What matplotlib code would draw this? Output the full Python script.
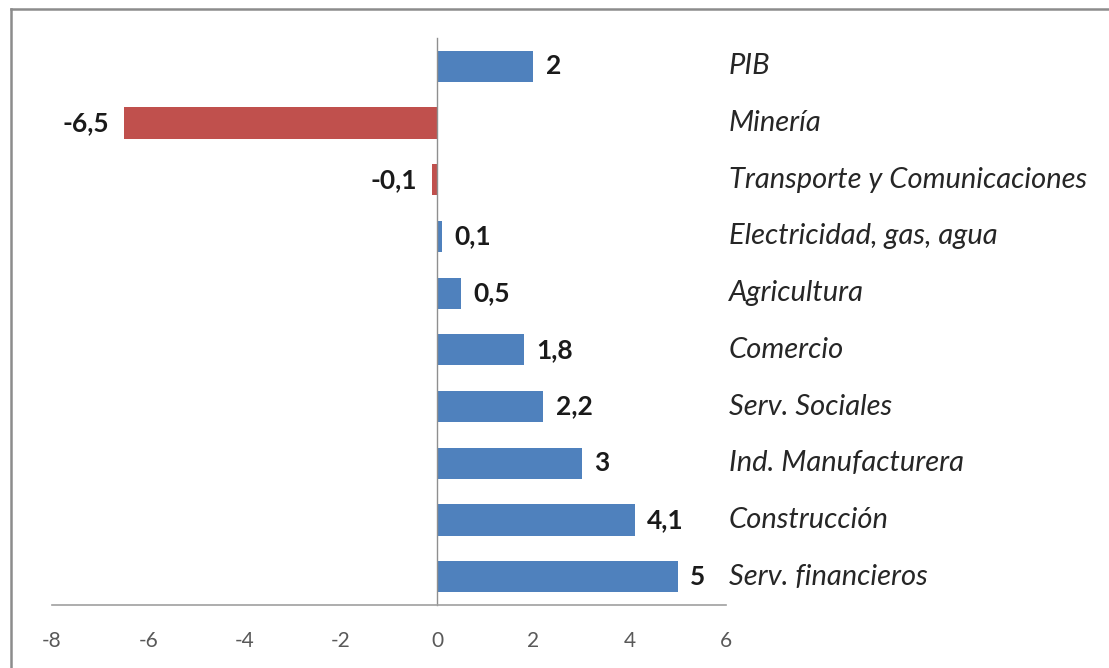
import matplotlib
matplotlib.use("Agg")
import matplotlib.pyplot as plt
from matplotlib.lines import Line2D
from matplotlib import transforms

categories = ["PIB", "Minería", "Transporte y Comunicaciones", "Electricidad, gas, agua",
              "Agricultura", "Comercio", "Serv. Sociales", "Ind. Manufacturera",
              "Construcción", "Serv. financieros"]
values = [2, -6.5, -0.1, 0.1, 0.5, 1.8, 2.2, 3, 4.1, 5]
value_labels = ["2", "-6,5", "-0,1", "0,1", "0,5", "1,8", "2,2", "3", "4,1", "5"]
xticks = [-8, -6, -4, -2, 0, 2, 4, 6]

BLUE = "#4F81BD"
RED = "#C0504D"
FONT = ["Lato", "DejaVu Sans"]
plt.rcParams['font.family'] = FONT

W, H = 1109, 668
fig = plt.figure(figsize=(W / 100, H / 100), dpi=100)
fig.patch.set_facecolor("white")

left, right, bottom, top = 52, 726, 605, 38
ax = fig.add_axes([left / W, 1 - bottom / H, (right - left) / W, (bottom - top) / H])

ypos = list(range(len(categories)))
colors = [RED if v < 0 else BLUE for v in values]
ax.barh(ypos, values, height=0.55, color=colors, zorder=2)

ax.set_xlim(-8, 6)
ax.set_ylim(len(categories) - 0.5, -0.5)
ax.set_xticks(xticks)
ax.set_xticklabels([str(t) for t in xticks])
ax.tick_params(axis='x', length=0, pad=19, labelsize=15, labelcolor="#595959")
ax.set_yticks([])

for s in ["top", "right"]:
    ax.spines[s].set_visible(False)
ax.spines["left"].set_position(("data", 0))
ax.spines["left"].set_color("#8F8F8F")
ax.spines["left"].set_linewidth(1.0)
ax.spines["bottom"].set_color("#A0A0A0")
ax.spines["bottom"].set_linewidth(1.2)

for y, v, lab in zip(ypos, values, value_labels):
    if v >= 0:
        ax.annotate(lab, (v, y), xytext=(9, 0), textcoords="offset points",
                    ha="left", va="center", fontsize=19, fontweight="bold", color="#1a1a1a")
    else:
        ax.annotate(lab, (v, y), xytext=(-11, 0), textcoords="offset points",
                    ha="right", va="center", fontsize=19, fontweight="bold", color="#1a1a1a")

trans = transforms.blended_transform_factory(fig.transFigure, ax.transData)
for y, c in zip(ypos, categories):
    ax.text(729 / W, y, c, transform=trans, ha="left", va="center",
            fontsize=21, fontstyle="italic", color="#262626")

# figure border (top and left)
fig.add_artist(Line2D([11 / W, 1.0], [1 - 9 / H, 1 - 9 / H], transform=fig.transFigure,
                      color="#8C8C8C", linewidth=1.8))
fig.add_artist(Line2D([11 / W, 11 / W], [0.0, 1 - 9 / H], transform=fig.transFigure,
                      color="#8C8C8C", linewidth=1.8))

fig.savefig("out.png", dpi=100, facecolor="white")
